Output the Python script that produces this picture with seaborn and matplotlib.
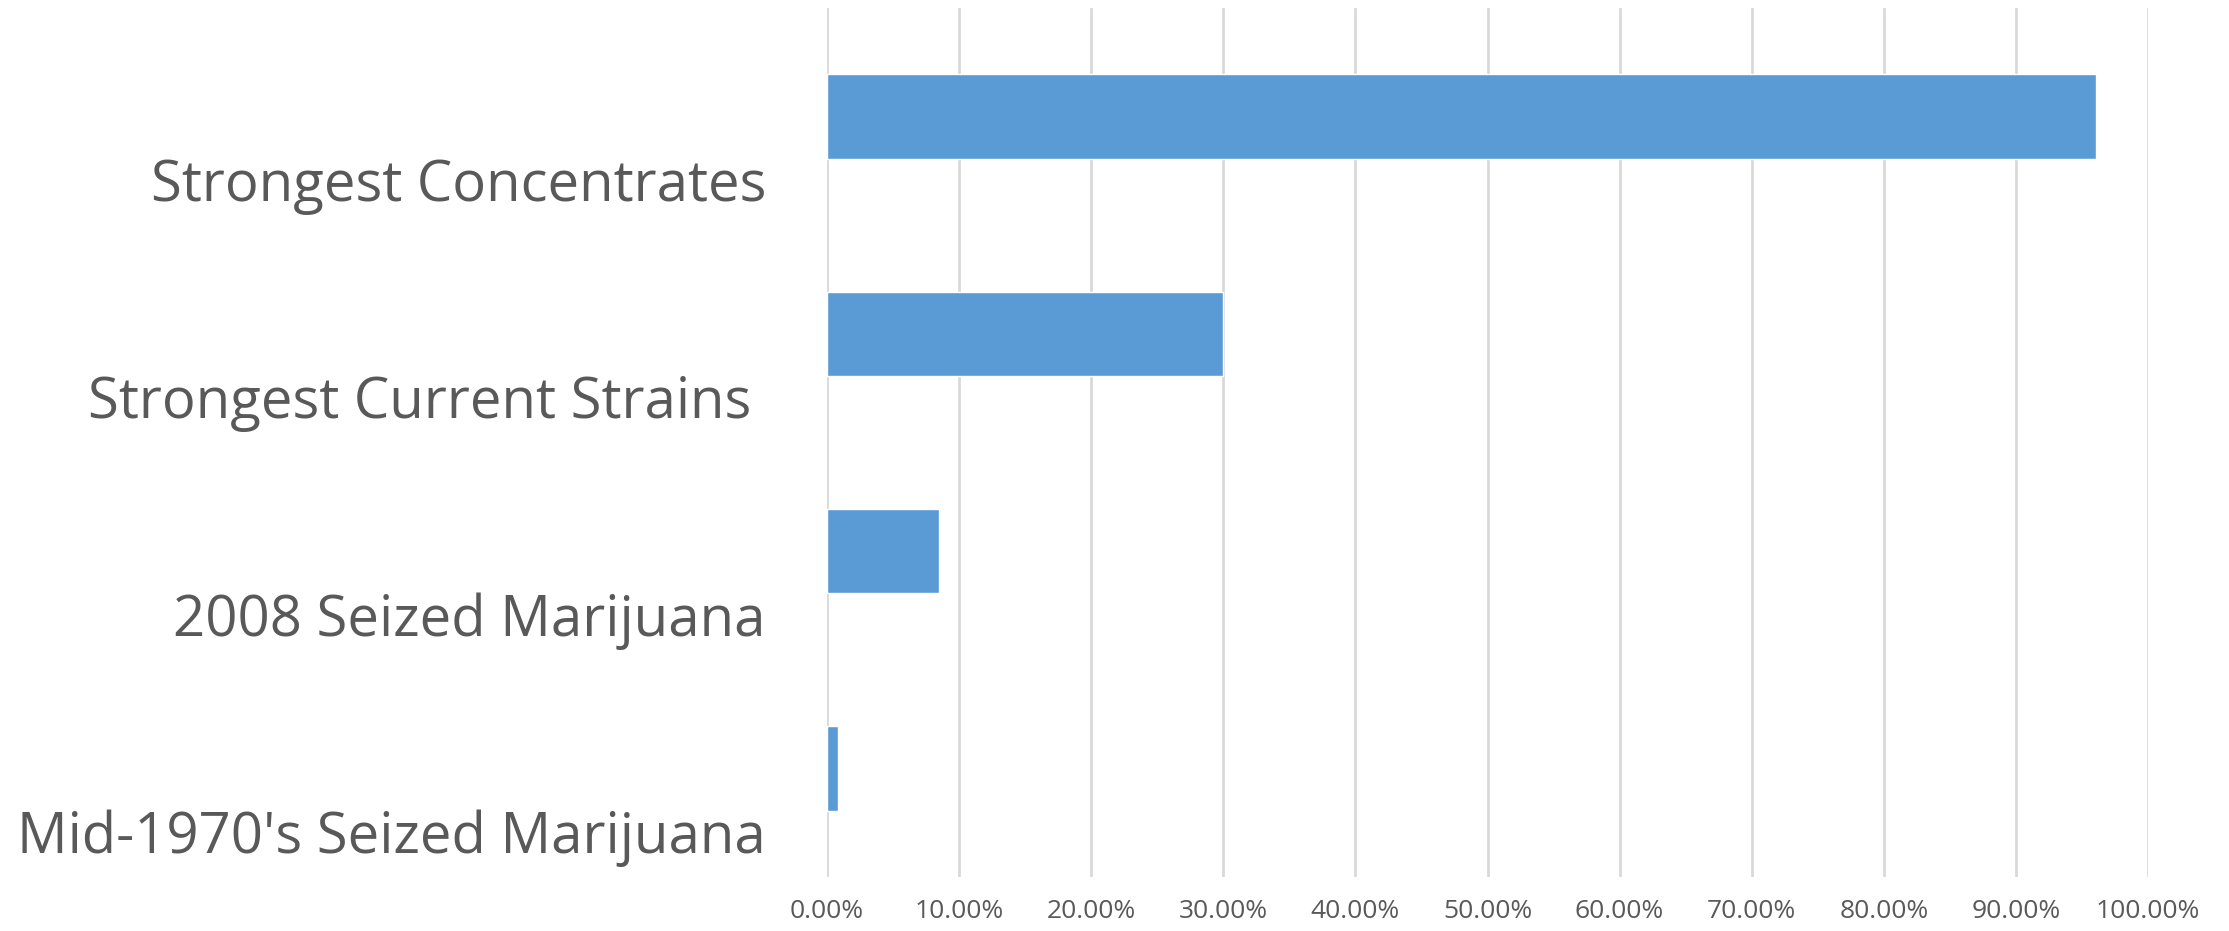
import matplotlib
matplotlib.use("Agg")
import matplotlib.pyplot as plt
import matplotlib.transforms as mtransforms
from matplotlib.ticker import FuncFormatter, MultipleLocator
import seaborn as sns
import pandas as pd

categories = ["Strongest Concentrates", "Strongest Current Strains ",
              "2008 Seized Marijuana", "Mid-1970's Seized Marijuana"]
values = [0.961, 0.30, 0.085, 0.008]

sns.set_theme(style="white")
plt.rcParams['font.family'] = ['Open Sans', 'DejaVu Sans']

df = pd.DataFrame({"category": categories, "value": values})

fig = plt.figure(figsize=(22.29, 9.31), dpi=100)
ax = fig.add_axes([827/2229, 1-877/931, (2148-827)/2229, (877-8)/931])

sns.barplot(data=df, x="value", y="category", orient="h", color="#5B9BD5",
            saturation=1, width=0.39, ax=ax, zorder=3)

ax.set_xlim(0, 1.0)
ax.set_ylim(3.5, -0.5)
ax.xaxis.set_major_locator(MultipleLocator(0.1))
ax.xaxis.set_major_formatter(FuncFormatter(lambda v, p: f"{v*100:.2f}%"))
ax.grid(axis="x", color="#D9D9D9", linewidth=2)
ax.set_axisbelow(True)
for s in ax.spines.values():
    s.set_visible(False)
ax.set_xlabel("")
ax.set_ylabel("")
ax.tick_params(axis="x", length=0, pad=16, labelsize=19, labelcolor="#595959")
ax.tick_params(axis="y", length=0, pad=44, labelsize=40.5, labelcolor="#595959")

offset = mtransforms.ScaledTranslation(0, -0.63, fig.dpi_scale_trans)
for lab in ax.get_yticklabels():
    lab.set_transform(lab.get_transform() + offset)

fig.savefig("out.png", dpi=100, facecolor="white")
